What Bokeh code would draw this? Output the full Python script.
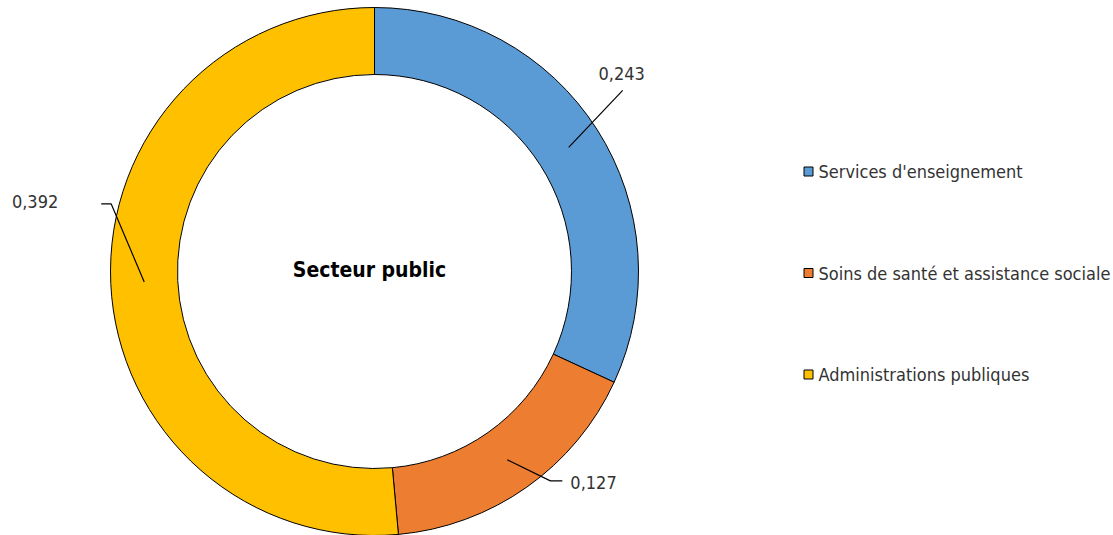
import math
from bokeh.plotting import figure
from bokeh.models import ColumnDataSource
from bokeh.core.properties import value
from bokeh.embed import file_html
from bokeh.resources import INLINE

categories = ["Services d'enseignement", "Soins de santé et assistance sociale", "Administrations publiques"]
values = [0.243, 0.127, 0.392]
value_labels = ["0,243", "0,127", "0,392"]
colors = ["#5B9BD5", "#ED7D31", "#FFC000"]
title_text = "Secteur public"

W, H = 1113, 535
FONT = "DejaVu Sans Condensed, Roboto"
p = figure(width=W, height=H, x_range=(0, W), y_range=(0, H),
           output_backend="svg", toolbar_location=None, min_border=0)
p.axis.visible = False
p.grid.visible = False
p.outline_line_color = None

cx, cy = 374, 264
r_in, r_out = 197, 264

total = sum(values)
starts, ends, mids = [], [], []
a = math.pi / 2
for v in values:
    d = v / total * 2 * math.pi
    starts.append(a)
    ends.append(a - d)
    mids.append(a - d / 2)
    a -= d

src = ColumnDataSource(dict(start=starts, end=ends, color=colors, cat=categories))
p.annular_wedge(x=cx, y=cy, inner_radius=r_in, outer_radius=r_out,
                start_angle="start", end_angle="end", direction="clock",
                fill_color="color", line_color="black", line_width=1, source=src)

# center title
p.text(x=[cx - 5], y=[cy + 2], text=[title_text], text_font=value(FONT),
       text_font_size="21px", text_font_style="bold", text_color="#000000",
       text_align="center", text_baseline="middle")

# leader lines and value labels (offsets relative to centroid of each ring segment)
r_mid = (r_in + r_out) / 2
leader_offsets = [
    [(54, 57)],
    [(43, -21), (55, -21)],
    [(-33, 78), (-43, 78)],
]
label_offsets = [(53, 74, "center"), (63, -23, "left"), (-86, 80, "right")]
for i, m in enumerate(mids):
    sx = cx + r_mid * math.cos(m)
    sy = cy + r_mid * math.sin(m)
    xs = [sx] + [sx + dx for dx, dy in leader_offsets[i]]
    ys = [sy] + [sy + dy for dx, dy in leader_offsets[i]]
    p.line(xs, ys, line_color="black", line_width=1.2)
    lx, ly, al = label_offsets[i]
    p.text(x=[sx + lx], y=[sy + ly], text=[value_labels[i]], text_font=value(FONT),
           text_font_size="18px", text_color="#333333", text_align=al,
           text_baseline="middle")

# legend
leg_x, leg_y0, leg_dy = 808, 364, -101.5
lys = [leg_y0 + k * leg_dy for k in range(len(categories))]
p.rect(x=[leg_x] * len(categories), y=lys, width=9, height=9,
       fill_color=colors, line_color="black", line_width=1)
p.text(x=[leg_x + 10] * len(categories), y=lys, text=categories, text_font=value(FONT),
       text_font_size="18px", text_color="#333333", text_align="left",
       text_baseline="middle")

open("out.html", "w").write(file_html(p, INLINE))
